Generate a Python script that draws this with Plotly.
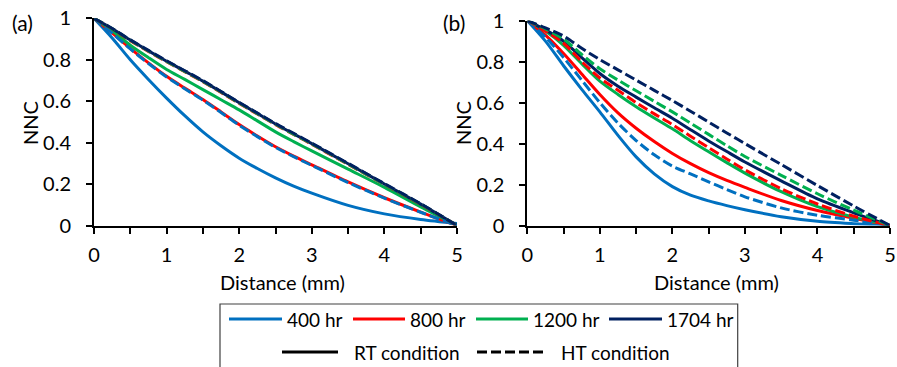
import plotly.graph_objects as go

# ---------------- data ----------------
distance = [0, 0.25, 0.5, 0.75, 1, 1.25, 1.5, 1.75, 2, 2.25, 2.5, 2.75, 3, 3.5, 4, 4.5, 5]

hours = ["400 hr", "800 hr", "1200 hr", "1704 hr"]
colors = ["#0070C0", "#FF0000", "#00B050", "#002060"]

# panel (a)
a_rt_400 = [1, 0.905, 0.80, 0.705, 0.615, 0.53, 0.452, 0.385, 0.325, 0.275, 0.23, 0.19, 0.156, 0.097, 0.056, 0.029, 0.01]
a_rt_800 = [1, 0.93, 0.855, 0.785, 0.72, 0.663, 0.608, 0.548, 0.487, 0.432, 0.38, 0.335, 0.293, 0.21, 0.134, 0.065, 0]
a_rt_1200 = [1, 0.94, 0.87, 0.81, 0.753, 0.705, 0.656, 0.607, 0.558, 0.505, 0.452, 0.405, 0.36, 0.272, 0.184, 0.09, 0]
a_rt_1704 = [1, 0.95, 0.895, 0.843, 0.793, 0.745, 0.697, 0.645, 0.592, 0.541, 0.49, 0.442, 0.395, 0.298, 0.2, 0.103, 0]
a_ht_400 = [1, 0.928, 0.852, 0.782, 0.717, 0.66, 0.605, 0.545, 0.484, 0.429, 0.377, 0.332, 0.29, 0.207, 0.132, 0.064, 0]
a_ht_800 = [1, 0.948, 0.892, 0.84, 0.79, 0.742, 0.694, 0.642, 0.589, 0.538, 0.487, 0.44, 0.392, 0.295, 0.198, 0.102, 0]
a_ht_1200 = [1, 0.949, 0.894, 0.842, 0.792, 0.744, 0.696, 0.644, 0.591, 0.54, 0.489, 0.441, 0.394, 0.297, 0.199, 0.103, 0]
a_ht_1704 = [1, 0.951, 0.896, 0.845, 0.795, 0.747, 0.699, 0.647, 0.594, 0.543, 0.492, 0.445, 0.397, 0.300, 0.202, 0.105, 0]

# panel (b)
b_rt_400 = [1, 0.9, 0.78, 0.665, 0.555, 0.44, 0.335, 0.252, 0.19, 0.148, 0.12, 0.097, 0.077, 0.043, 0.021, 0.009, 0]
b_rt_800 = [1, 0.93, 0.84, 0.74, 0.64, 0.55, 0.475, 0.41, 0.352, 0.302, 0.258, 0.22, 0.186, 0.122, 0.073, 0.035, 0]
b_rt_1200 = [1, 0.95, 0.88, 0.79, 0.705, 0.64, 0.58, 0.525, 0.472, 0.414, 0.36, 0.307, 0.256, 0.165, 0.092, 0.041, 0]
b_rt_1704 = [1, 0.955, 0.9, 0.82, 0.742, 0.68, 0.627, 0.575, 0.524, 0.468, 0.413, 0.361, 0.31, 0.218, 0.13, 0.062, 0]
b_ht_400 = [1, 0.92, 0.82, 0.71, 0.6, 0.5, 0.415, 0.345, 0.29, 0.252, 0.213, 0.176, 0.14, 0.086, 0.05, 0.026, 0]
b_ht_800 = [1, 0.95, 0.89, 0.8, 0.72, 0.66, 0.6, 0.545, 0.493, 0.436, 0.38, 0.325, 0.272, 0.18, 0.105, 0.045, 0]
b_ht_1200 = [1, 0.96, 0.91, 0.835, 0.765, 0.71, 0.658, 0.606, 0.555, 0.5, 0.445, 0.39, 0.337, 0.245, 0.155, 0.075, 0]
b_ht_1704 = [1, 0.965, 0.925, 0.865, 0.81, 0.76, 0.71, 0.66, 0.61, 0.558, 0.505, 0.452, 0.4, 0.298, 0.195, 0.095, 0]

y_ticks = [0, 0.2, 0.4, 0.6, 0.8, 1]
x_ticks = [0, 1, 2, 3, 4, 5]
condition_labels = ["RT condition", "HT condition"]

panels = {
    "a": {"rt": [a_rt_400, a_rt_800, a_rt_1200, a_rt_1704],
          "ht": [a_ht_400, a_ht_800, a_ht_1200, a_ht_1704]},
    "b": {"rt": [b_rt_400, b_rt_800, b_rt_1200, b_rt_1704],
          "ht": [b_ht_400, b_ht_800, b_ht_1200, b_ht_1704]},
}

# ---------------- figure ----------------
W, H = 897, 367
FONT = "Lato"
FS = 20
LFS = 19
DASH = "10px,4px"
LW = 3

fig = go.Figure()
axis_ids = {"a": ("x", "y"), "b": ("x2", "y2")}
for key, (xa, ya) in axis_ids.items():
    for cond, dash in (("rt", "solid"), ("ht", DASH)):
        for i, series in enumerate(panels[key][cond]):
            fig.add_trace(go.Scatter(
                x=distance, y=series, mode="lines", xaxis=xa, yaxis=ya,
                line=dict(color=colors[i], width=LW, dash=dash, shape="spline", smoothing=0.8),
                showlegend=False, name=f"{hours[i]} {cond.upper()}"))


def px_x(p):
    return p / W


def px_y(p):
    return 1 - p / H


xaxis_common = dict(
    range=[0, 5], tickvals=x_ticks, ticks="outside", ticklen=6, tickwidth=1.5,
    tickcolor="black", showline=True, linecolor="black", linewidth=2,
    showgrid=False, zeroline=False, ticklabelstandoff=4, automargin=False,
    tickfont=dict(family=FONT, size=FS, color="black"),
    minor=dict(dtick=0.5, ticks="outside", ticklen=6, tickwidth=1.5, tickcolor="black", showgrid=False),
)
yaxis_common = dict(
    range=[0, 1], tickvals=y_ticks, ticks="outside", ticklen=6, tickwidth=1.5,
    tickcolor="black", showline=True, linecolor="black", linewidth=2,
    showgrid=False, zeroline=False, ticklabelstandoff=11, automargin=False,
    tickfont=dict(family=FONT, size=FS, color="black"),
)

fig.update_layout(
    width=W, height=H, margin=dict(l=0, r=0, t=0, b=0),
    paper_bgcolor="white", plot_bgcolor="white",
    font=dict(family=FONT, size=FS, color="black"),
    xaxis=dict(domain=[px_x(94), px_x(457)], anchor="y", **xaxis_common),
    yaxis=dict(domain=[px_y(225.5), px_y(18.3)], anchor="x", **yaxis_common),
    xaxis2=dict(domain=[px_x(527.3), px_x(890)], anchor="y2", **xaxis_common),
    yaxis2=dict(domain=[px_y(225.5), px_y(20.7)], anchor="x2", **yaxis_common),
)

annotations = []
# panel letters
for txt, cx in (("(a)", 22), ("(b)", 454)):
    annotations.append(dict(text=txt, x=px_x(cx), y=px_y(22), xref="paper", yref="paper",
                            showarrow=False, xanchor="center", yanchor="middle",
                            font=dict(family=FONT, size=FS + 1)))
# axis titles
for cx in (282, 716):
    annotations.append(dict(text="Distance (mm)", x=px_x(cx), y=px_y(282), xref="paper", yref="paper",
                            showarrow=False, xanchor="center", yanchor="middle",
                            font=dict(family=FONT, size=FS)))
for cx in (30, 463):
    annotations.append(dict(text="NNC", x=px_x(cx), y=px_y(123), xref="paper", yref="paper",
                            showarrow=False, xanchor="center", yanchor="middle", textangle=-90,
                            font=dict(family=FONT, size=FS)))

shapes = []
# legend frame
shapes.append(dict(type="rect", xref="paper", yref="paper",
                   x0=px_x(220), x1=px_x(737.7), y0=px_y(372), y1=px_y(304),
                   line=dict(color="#404040", width=1.2), fillcolor="rgba(0,0,0,0)"))
# legend row 1: hours
row1_lines = [(229, 282), (353, 405), (476, 528), (609, 662)]
for (lx0, lx1), col, lab in zip(row1_lines, colors, hours):
    shapes.append(dict(type="line", xref="paper", yref="paper",
                       x0=px_x(lx0), x1=px_x(lx1), y0=px_y(319), y1=px_y(319),
                       line=dict(color=col, width=LW)))
    annotations.append(dict(text=lab, x=px_x(lx1 + 3), y=px_y(319), xref="paper", yref="paper",
                            showarrow=False, xanchor="left", yanchor="middle",
                            font=dict(family=FONT, size=LFS)))
# legend row 2: conditions
row2_lines = [((282, 338), "solid", 352), ((477, 543), DASH, 559)]
for ((lx0, lx1), dash, tx), lab in zip(row2_lines, condition_labels):
    shapes.append(dict(type="line", xref="paper", yref="paper",
                       x0=px_x(lx0), x1=px_x(lx1), y0=px_y(352), y1=px_y(352),
                       line=dict(color="black", width=LW, dash=dash)))
    annotations.append(dict(text=lab, x=px_x(tx), y=px_y(352), xref="paper", yref="paper",
                            showarrow=False, xanchor="left", yanchor="middle",
                            font=dict(family=FONT, size=LFS)))

fig.update_layout(annotations=annotations, shapes=shapes)

fig.write_html("out.html", config={"displayModeBar": False},
               post_script="document.body.style.margin='0px';document.body.style.padding='0px';")
